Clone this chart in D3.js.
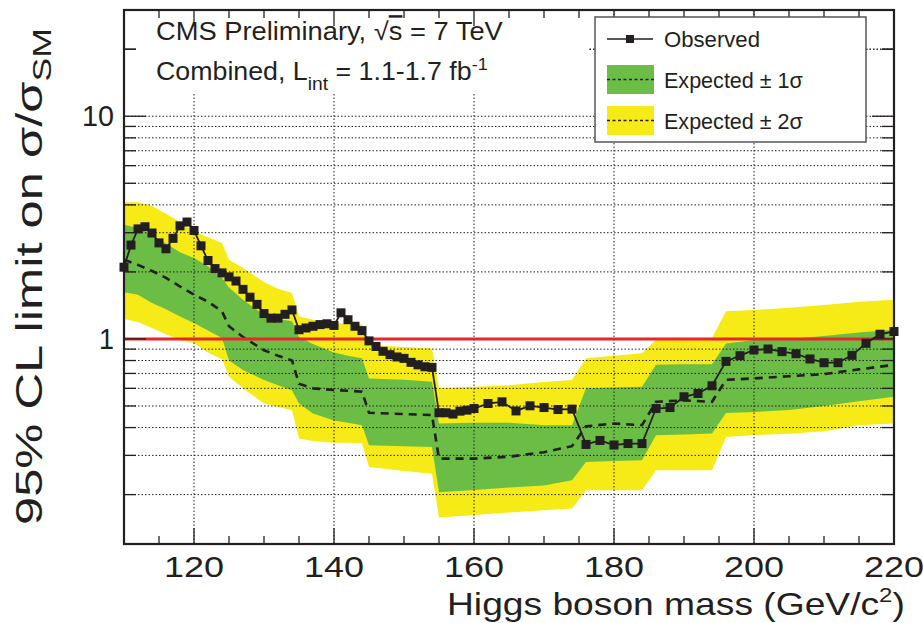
<!DOCTYPE html>
<html><head><meta charset="utf-8">
<script src="https://cdn.jsdelivr.net/npm/d3@7"></script>
<style>html,body{margin:0;padding:0;background:#fff}svg{display:block}text{font-family:"Liberation Sans",Arial,Helvetica,sans-serif;fill:#231f20}</style>
</head><body><svg id="c" width="923" height="623"></svg>
<script>
// ---- data ----
const massObs = [110,111,112,113,114,115,116,117,118,119,120,121,122,123,124,125,126,127,128,129,130,131,132,133,134,135,136,137,138,139,140,141,142,143,144,145,146,147,148,149,150,151,152,153,154,155,156,157,158,159,160,162,164,166,168,170,172,174,176,178,180,182,184,186,188,190,192,194,196,198,200,202,204,206,208,210,212,214,216,218,220];
const observed = [2.10,2.64,3.12,3.19,2.99,2.70,2.54,2.83,3.22,3.35,3.07,2.62,2.25,2.07,1.98,1.90,1.82,1.67,1.54,1.43,1.30,1.24,1.24,1.29,1.35,1.10,1.12,1.14,1.16,1.17,1.15,1.31,1.22,1.14,1.09,0.98,0.925,0.88,0.85,0.83,0.818,0.785,0.765,0.75,0.745,0.466,0.466,0.46,0.474,0.479,0.487,0.513,0.522,0.475,0.501,0.492,0.482,0.484,0.336,0.350,0.334,0.339,0.339,0.487,0.492,0.550,0.569,0.616,0.793,0.841,0.892,0.901,0.877,0.858,0.813,0.782,0.782,0.844,0.956,1.05,1.08];
const massExp = [110,112,114,116,118,120,122,124,125,127,130,132,134,135,137,140,142,144,145,150,154,155,160,165,170,174,176,180,184,186,190,194,196,200,205,210,215,220];
const expMedian = [2.27,2.15,2.02,1.88,1.72,1.58,1.47,1.33,1.14,1.02,0.89,0.84,0.80,0.63,0.60,0.59,0.585,0.58,0.466,0.46,0.455,0.29,0.29,0.296,0.31,0.33,0.405,0.417,0.41,0.522,0.53,0.522,0.655,0.665,0.68,0.695,0.73,0.765];
const exp1Up = [3.26,3.15,2.92,2.68,2.45,2.31,2.12,1.88,1.70,1.50,1.28,1.23,1.20,1.02,0.95,0.87,0.84,0.82,0.665,0.655,0.642,0.417,0.42,0.42,0.41,0.41,0.60,0.605,0.61,0.765,0.77,0.77,0.955,0.99,1.00,1.03,1.07,1.10];
const exp1Dn = [1.62,1.58,1.45,1.36,1.26,1.18,1.09,1.01,0.80,0.725,0.654,0.62,0.589,0.513,0.463,0.43,0.42,0.41,0.333,0.33,0.327,0.205,0.21,0.215,0.22,0.232,0.28,0.283,0.285,0.369,0.372,0.376,0.465,0.47,0.48,0.50,0.525,0.55];
const exp2Up = [4.11,4.11,3.95,3.65,3.35,3.04,2.86,2.70,2.27,2.08,1.80,1.68,1.61,1.26,1.22,1.18,1.17,1.16,0.94,0.92,0.905,0.60,0.61,0.62,0.64,0.654,0.818,0.84,0.862,0.99,1.00,1.01,1.33,1.35,1.38,1.42,1.47,1.50];
const exp2Dn = [1.23,1.19,1.12,1.05,0.99,0.956,0.87,0.81,0.676,0.60,0.513,0.495,0.479,0.357,0.348,0.342,0.342,0.34,0.266,0.255,0.248,0.158,0.162,0.166,0.170,0.173,0.209,0.209,0.209,0.257,0.257,0.257,0.363,0.37,0.375,0.385,0.41,0.417];
const xTickLabels = [120,140,160,180,200,220];
const yTickLabels = [1,10];
const smLine = 1;
const legendLabels = ["Observed","Expected \u00b1 1\u03c3","Expected \u00b1 2\u03c3"];

// ---- layout ----
const L=124,R=894,T=10,B=544;
const svg=d3.select("#c");
const x=d3.scaleLinear().domain([110,220]).range([L,R]);
const y=d3.scaleLog().domain([0.12,30]).range([B,T]);
const cGreen="#6bbd46", cYellow="#f6eb16", cRed="#e8262b", cInk="#231f20";

svg.append("rect").attr("width",923).attr("height",623).attr("fill","#fff");

const defs=svg.append("defs");
defs.append("clipPath").attr("id","pc").append("rect").attr("x",L).attr("y",T).attr("width",R-L).attr("height",B-T);
const g=svg.append("g").attr("clip-path","url(#pc)");

const expRows=massExp.map((m,i)=>({m,med:expMedian[i],u1:exp1Up[i],d1:exp1Dn[i],u2:exp2Up[i],d2:exp2Dn[i]}));
g.append("path").datum(expRows).attr("fill",cYellow)
 .attr("d",d3.area().x(d=>x(d.m)).y0(d=>y(d.d2)).y1(d=>y(d.u2)));
g.append("path").datum(expRows).attr("fill",cGreen)
 .attr("d",d3.area().x(d=>x(d.m)).y0(d=>y(d.d1)).y1(d=>y(d.u1)));

// grid
const minorVals=[];
[0.1,1,10].forEach(dec=>{for(let k=1;k<=9;k++){const v=dec*k; if(v>=0.12&&v<=30) minorVals.push(v);}});
minorVals.push(20);
g.selectAll(".hg").data(minorVals).join("line").attr("x1",L).attr("x2",R)
 .attr("y1",d=>y(d)).attr("y2",d=>y(d)).attr("stroke",cInk).attr("stroke-width",1).attr("stroke-dasharray","1.5,2");
g.selectAll(".vg").data([120,140,160,180,200]).join("line").attr("y1",T).attr("y2",B)
 .attr("x1",d=>x(d)).attr("x2",d=>x(d)).attr("stroke",cInk).attr("stroke-width",1).attr("stroke-dasharray","1.5,2");

// expected median
g.append("path").datum(expRows).attr("fill","none").attr("stroke",cInk).attr("stroke-width",2.6)
 .attr("stroke-dasharray","8,6").attr("d",d3.line().x(d=>x(d.m)).y(d=>y(d.med)));
// SM line
g.append("line").attr("x1",L).attr("x2",R).attr("y1",y(smLine)).attr("y2",y(smLine)).attr("stroke",cRed).attr("stroke-width",3);

// observed
const obsRows=massObs.map((m,i)=>({m,v:observed[i]}));
svg.append("path").datum(obsRows).attr("fill","none").attr("stroke",cInk).attr("stroke-width",1.8)
 .attr("d",d3.line().x(d=>x(d.m)).y(d=>y(d.v)));
svg.selectAll(".mk").data(obsRows).join("rect").attr("x",d=>x(d.m)-4.5).attr("y",d=>y(d.v)-4.5)
 .attr("width",9).attr("height",9).attr("fill",cInk);

// text pave (white, covers grid)
svg.append("rect").attr("x",L+1).attr("y",T+1).attr("width",587-L).attr("height",93-T).attr("fill","#fff");

// frame + ticks
svg.append("rect").attr("x",L).attr("y",T).attr("width",R-L).attr("height",B-T).attr("fill","none").attr("stroke",cInk).attr("stroke-width",2.2);
const xt=d3.range(115,220,5);
xt.forEach(v=>{
  const major=(v%20===0);
  const len=major?16:8;
  svg.append("line").attr("x1",x(v)).attr("x2",x(v)).attr("y1",B).attr("y2",B-len).attr("stroke",cInk).attr("stroke-width",1.3);
  svg.append("line").attr("x1",x(v)).attr("x2",x(v)).attr("y1",T).attr("y2",T+len).attr("stroke",cInk).attr("stroke-width",1.3);
});
minorVals.forEach(v=>{
  const major=(v===1||v===10);
  const len=major?22:12;
  svg.append("line").attr("x1",L).attr("x2",L+len).attr("y1",y(v)).attr("y2",y(v)).attr("stroke",cInk).attr("stroke-width",1.3);
  svg.append("line").attr("x1",R).attr("x2",R-len).attr("y1",y(v)).attr("y2",y(v)).attr("stroke",cInk).attr("stroke-width",1.3);
});

// fit helper: scale text horizontally to a target width
function fit(t,x0,y0,target,anchor,rot){
  t.attr("text-anchor","start").attr("x",0).attr("y",0);
  const w=t.node().getComputedTextLength();
  const k=target/w;
  if(rot){ t.attr("transform",`translate(${x0},${y0}) rotate(-90) scale(${k},1)`); return; }
  let xs=x0; if(anchor==="end") xs=x0-target; else if(anchor==="middle") xs=x0-target/2;
  t.attr("transform",`translate(${xs},${y0}) scale(${k},1)`);
}

// x tick labels
xTickLabels.forEach(v=>{
  const t=svg.append("text").attr("font-size",30).text(v);
  fit(t,x(v),577,60,"middle");
});
yTickLabels.forEach(v=>{
  const t=svg.append("text").attr("font-size",29).text(v);
  const w=(v===10)?32:15;
  fit(t,114,y(v)+10,w,"end");
});

// axis titles
const xtitle=svg.append("text").attr("font-size",31);
xtitle.append("tspan").text("Higgs boson mass (GeV/c");
xtitle.append("tspan").attr("font-size",20).attr("dy",-13).text("2");
xtitle.append("tspan").attr("dy",13).text(")");
fit(xtitle,905,615,458,"end");

const ytitle=svg.append("text").attr("font-size",37);
ytitle.append("tspan").text("95% CL limit on \u03c3/\u03c3");
ytitle.append("tspan").attr("font-size",26).attr("dy",9).text("SM");
fit(ytitle,42,525,497,"start",true);

// header
const h1=svg.append("text").attr("font-size",25);
h1.append("tspan").text("CMS Preliminary, \u221a");
h1.append("tspan").style("text-decoration","overline").text("s");
h1.append("tspan").text(" = 7 TeV");
fit(h1,156,40,347,"start");
const h2=svg.append("text").attr("font-size",25);
h2.append("tspan").text("Combined, L");
h2.append("tspan").attr("font-size",18).attr("dy",10).text("int");
h2.append("tspan").attr("dy",-10).text(" = 1.1-1.7 fb");
h2.append("tspan").attr("font-size",17).attr("dy",-10).text("-1");
fit(h2,156,80,332,"start");

// legend
svg.append("rect").attr("x",595).attr("y",17).attr("width",271).attr("height",125).attr("fill","#fff").attr("stroke","#555").attr("stroke-width",1.5);
svg.append("line").attr("x1",607).attr("x2",653).attr("y1",39).attr("y2",39).attr("stroke",cInk).attr("stroke-width",1.6);
svg.append("rect").attr("x",626).attr("y",35).attr("width",8).attr("height",8).attr("fill",cInk);
svg.append("rect").attr("x",607).attr("y",65).attr("width",47).attr("height",29).attr("fill",cGreen);
svg.append("line").attr("x1",607).attr("x2",654).attr("y1",79.5).attr("y2",79.5).attr("stroke",cInk).attr("stroke-width",1.3).attr("stroke-dasharray","3,2.5");
svg.append("rect").attr("x",607).attr("y",106).attr("width",47).attr("height",29).attr("fill",cYellow);
svg.append("line").attr("x1",607).attr("x2",654).attr("y1",120.5).attr("y2",120.5).attr("stroke",cInk).attr("stroke-width",1.3).attr("stroke-dasharray","3,2.5");
[[47,96],[88,139],[129,139]].forEach((p,i)=>{
  const t=svg.append("text").attr("font-size",22).text(legendLabels[i]);
  fit(t,664,p[0],p[1],"start");
});
</script></body></html>
